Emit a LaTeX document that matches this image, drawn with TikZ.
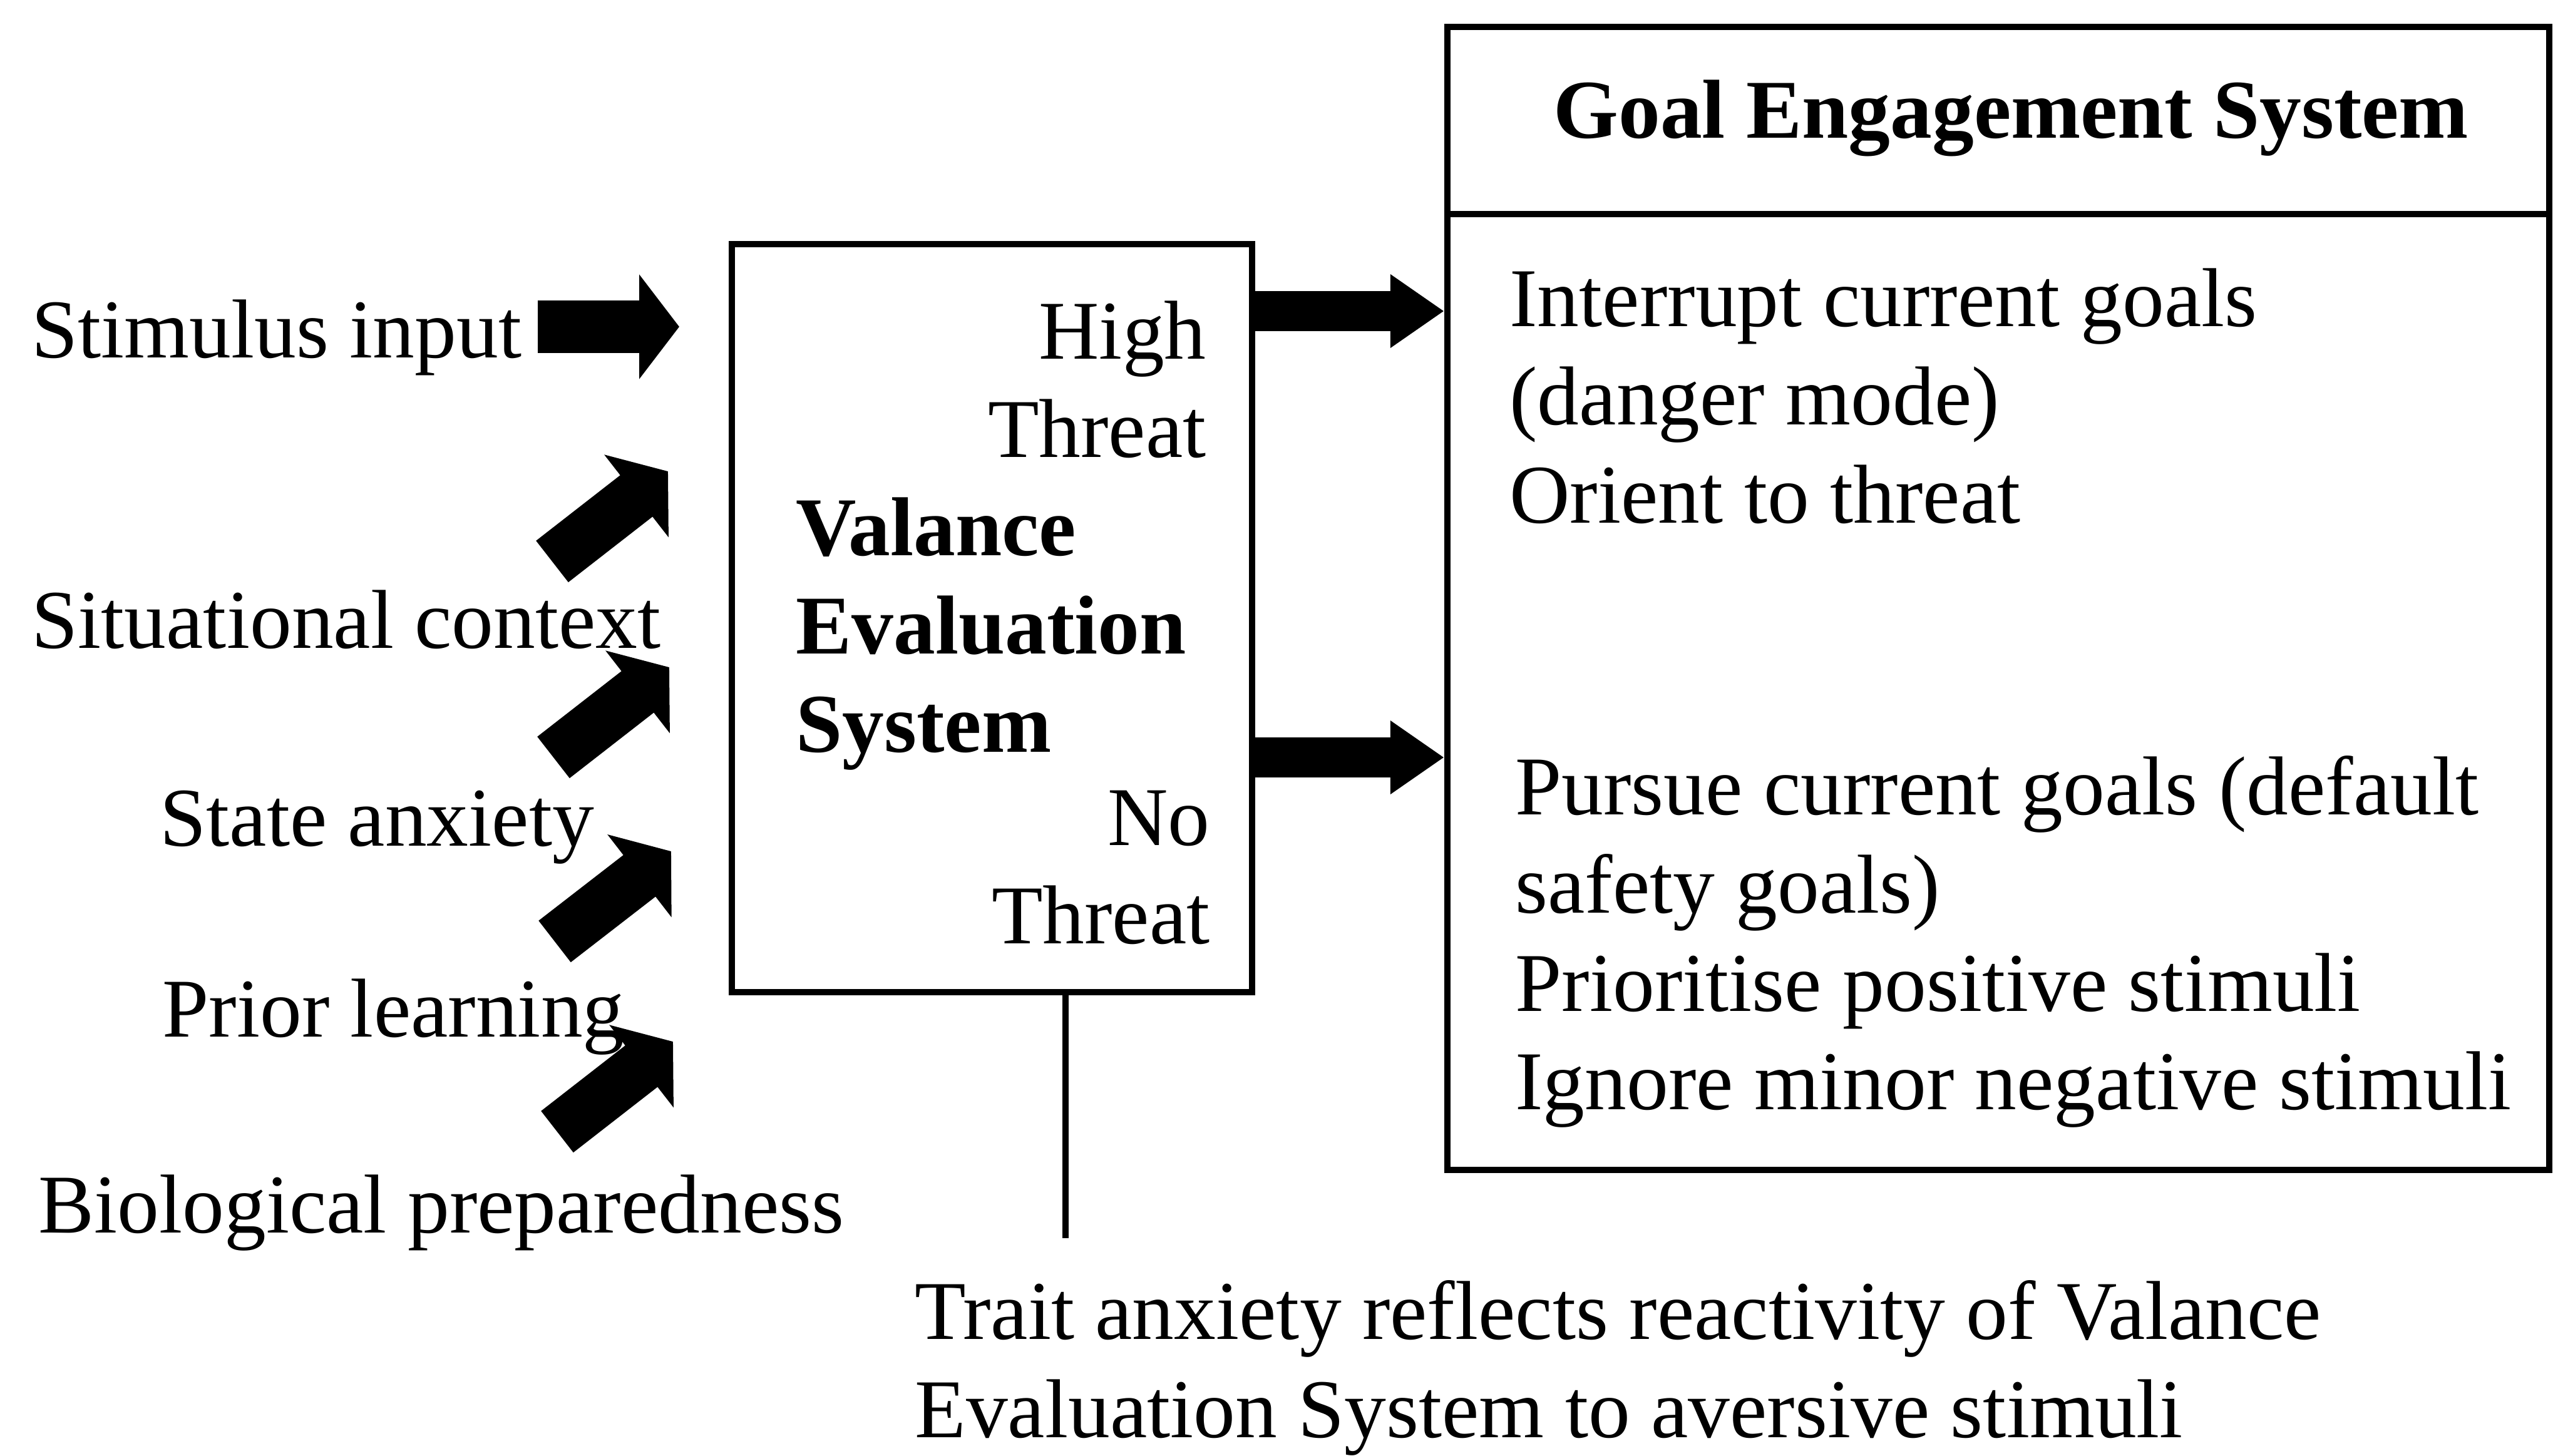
\documentclass[tikz,border=0pt]{standalone}
\usepackage{fontspec}
\setmainfont{Liberation Serif}
\usepackage{tikz}
\usetikzlibrary{arrows.meta,positioning,calc}
\newcommand{\diagfont}{\fontsize{19}{22.3}\selectfont}

\begin{document}
\begin{tikzpicture}[
  font=\diagfont,
  box/.style={draw,line width=1.5pt,inner sep=0pt},
  lbl/.style={inner sep=0pt,align=left},
  bold/.style={font=\diagfont\bfseries},
  fat/.style={line width=0.42cm,-{Triangle[length=0.32cm,width=0.82cm]}},
  flat/.style={line width=0.32cm,-{Triangle[length=0.43cm,width=0.56cm]}},
  tie/.style={line width=1.5pt}
]
  \useasboundingbox (0,0) rectangle (20.39,11.625);

  \node[box,minimum width=4.155cm,minimum height=5.975cm] (ves) at (7.9225,6.6875) {};
  \node[box,minimum width=8.80cm,minimum height=9.13cm] (goal) at (15.96,6.845) {};
  \coordinate (divide) at (0,9.915);
  \draw[tie] (goal.west |- divide) -- (goal.east |- divide);

  \node[lbl,anchor=base west] (stim) at (0.245,8.765) {Stimulus input};
  \node[lbl,anchor=base west] (sit) at (0.245,6.45) {Situational context};
  \node[lbl,anchor=base west] (state) at (1.27,4.87) {State anxiety};
  \node[lbl,anchor=base west] (prior) at (1.29,3.345) {Prior learning};
  \node[lbl,anchor=base west] (bio) at (0.30,1.78) {Biological preparedness};

  \node[lbl,align=right,anchor=base east] (high) at (9.64,7.975) {High\\Threat};
  \node[lbl,bold,anchor=base west] (vesname) at (6.35,5.62)
    {Valance\\Evaluation\\System};
  \node[lbl,align=right,anchor=base east] (none) at (9.67,4.09) {No\\Threat};

  \node[lbl,bold,anchor=base west] (goalhead) at (12.40,10.52) {Goal Engagement System};
  \node[lbl,anchor=base west] (danger) at (12.05,7.45)
    {Interrupt current goals\\(danger mode)\\Orient to threat};
  \node[lbl,anchor=base west] (safe) at (12.095,2.765)
    {Pursue current goals (default\\safety goals)\\Prioritise positive stimuli\\
    Ignore minor negative stimuli};

  \node[lbl,anchor=base west] (trait) at (7.30,0.145)
    {Trait anxiety reflects reactivity of Valance\\Evaluation System to aversive stimuli};

  \coordinate (stimtip) at (5.425,9.015);
  \draw[fat] ([xshift=0.12cm]stimtip -| stim.east) -- (stimtip);

  \coordinate (sitfrom) at (4.41,7.14);
  \coordinate (sitto) at (5.335,7.86);
  \coordinate (statefrom) at (4.42,5.575);
  \coordinate (stateto) at (5.345,6.295);
  \coordinate (priorfrom) at (4.43,4.105);
  \coordinate (priorto) at (5.36,4.825);
  \coordinate (biofrom) at (4.45,2.585);
  \coordinate (bioto) at (5.375,3.305);
  \draw[fat] (sitfrom) -- (sitto);
  \draw[fat] (statefrom) -- (stateto);
  \draw[fat] (priorfrom) -- (priorto);
  \draw[fat] (biofrom) -- (bioto);

  \draw[flat] (ves.east |- 0,9.14) -- (goal.west |- 0,9.14);
  \draw[flat] (ves.east |- 0,5.575) -- (goal.west |- 0,5.575);

  \coordinate (traitend) at (8.51,1.735);
  \draw[tie] (ves.south -| traitend) -- (traitend);
\end{tikzpicture}
\end{document}
